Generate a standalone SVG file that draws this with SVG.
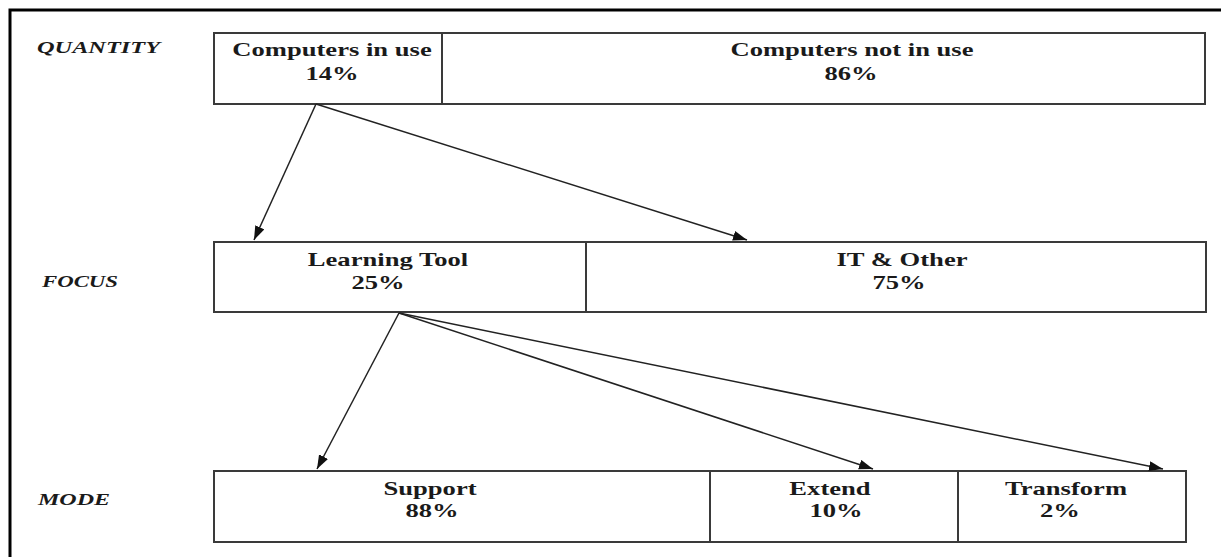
<svg xmlns="http://www.w3.org/2000/svg" width="1221" height="557" viewBox="0 0 1221 557">
  <style>
    .frame { fill: none; stroke: #000; stroke-width: 3; }
    .cell { fill: #fff; stroke: #3a3a3a; stroke-width: 2; }
    .t { font-family: "Liberation Serif", "Times New Roman", serif; font-weight: bold; font-size: 19px; fill: #1a1a1a; text-anchor: middle; }
    .lab { font-family: "Liberation Serif", "Times New Roman", serif; font-weight: bold; font-style: italic; font-size: 16px; fill: #1a1a1a; }
    .conn { fill: none; stroke: #222; stroke-width: 1.5; }
  </style>
  <defs>
    <marker id="arrow" markerUnits="userSpaceOnUse" markerWidth="15" markerHeight="11" refX="14" refY="5" orient="auto">
      <path d="M0,0 L14,5 L0,10 z" fill="#111"/>
    </marker>
  </defs>
  <rect width="1221" height="557" fill="#fff"/>
  <path class="frame" d="M10,557 V10 H1221"/>

  <g id="labels">
    <text class="lab" x="37" y="52.5" textLength="123" lengthAdjust="spacingAndGlyphs">QUANTITY</text>
    <text class="lab" x="42" y="287" textLength="76" lengthAdjust="spacingAndGlyphs">FOCUS</text>
    <text class="lab" x="38" y="505" textLength="72" lengthAdjust="spacingAndGlyphs">MODE</text>
  </g>

  <g id="computers-in-use">
    <rect class="cell" x="214" y="33" width="228" height="71"/>
    <text class="t" transform="translate(332,56) scale(1.4,1)">Computers in use</text>
    <text class="t" transform="translate(332,80) scale(1.4,1)">14%</text>
  </g>
  <g id="computers-not-in-use">
    <rect class="cell" x="442" y="33" width="763" height="71"/>
    <text class="t" transform="translate(852,56) scale(1.4,1)">Computers not in use</text>
    <text class="t" transform="translate(851,80) scale(1.4,1)">86%</text>
  </g>

  <g id="learning-tool">
    <rect class="cell" x="214" y="242" width="372" height="70"/>
    <text class="t" transform="translate(388,266) scale(1.4,1)">Learning Tool</text>
    <text class="t" transform="translate(378,289) scale(1.4,1)">25%</text>
  </g>
  <g id="it-other">
    <rect class="cell" x="586" y="242" width="620" height="70"/>
    <text class="t" transform="translate(902,266) scale(1.4,1)">IT &amp; Other</text>
    <text class="t" transform="translate(899,289) scale(1.4,1)">75%</text>
  </g>

  <g id="support">
    <rect class="cell" x="214" y="471" width="496" height="71"/>
    <text class="t" transform="translate(430,495) scale(1.4,1)">Support</text>
    <text class="t" transform="translate(432,517) scale(1.4,1)">88%</text>
  </g>
  <g id="extend">
    <rect class="cell" x="710" y="471" width="248" height="71"/>
    <text class="t" transform="translate(830,495) scale(1.4,1)">Extend</text>
    <text class="t" transform="translate(836,517) scale(1.4,1)">10%</text>
  </g>
  <g id="transform">
    <rect class="cell" x="958" y="471" width="228" height="71"/>
    <text class="t" transform="translate(1066,495) scale(1.4,1)">Transform</text>
    <text class="t" transform="translate(1060,517) scale(1.4,1)">2%</text>
  </g>

  <g id="connectors">
    <line class="conn" x1="316" y1="104" x2="254" y2="240" marker-end="url(#arrow)"/>
    <line class="conn" x1="316" y1="104" x2="747" y2="240" marker-end="url(#arrow)"/>
    <line class="conn" x1="399" y1="313" x2="317" y2="469" marker-end="url(#arrow)"/>
    <line class="conn" x1="399" y1="313" x2="873" y2="469" marker-end="url(#arrow)"/>
    <line class="conn" x1="399" y1="313" x2="1163" y2="469" marker-end="url(#arrow)"/>
  </g>
</svg>
